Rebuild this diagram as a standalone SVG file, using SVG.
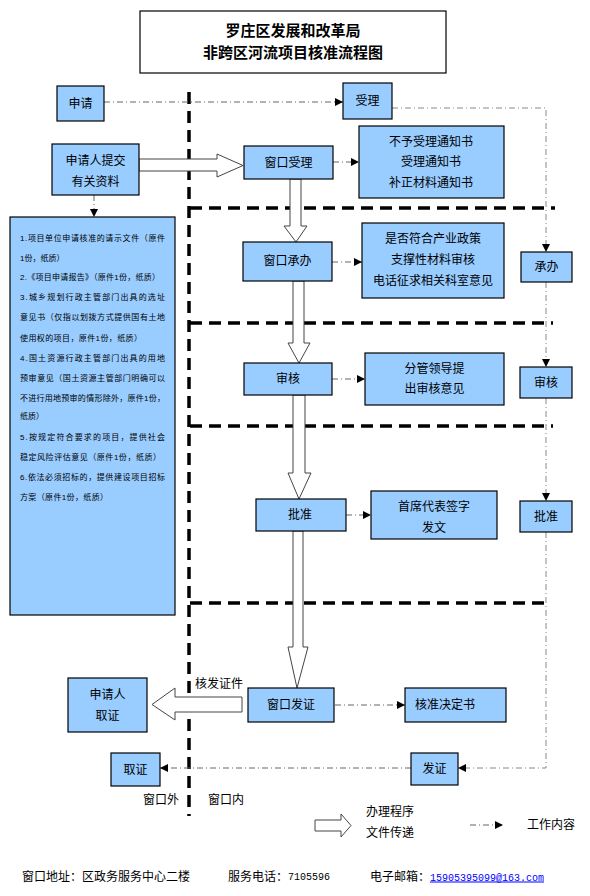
<svg xmlns="http://www.w3.org/2000/svg" width="590" height="896" viewBox="0 0 590 896">
<defs>
<style>
.n{fill:#99CCFF;stroke:#000;stroke-width:1.2}
.t{font-family:"Liberation Sans","Noto Sans CJK SC",sans-serif;font-size:12px;fill:#000;dominant-baseline:central}
.c{text-anchor:middle}
.ttl{font-family:"Noto Sans CJK SC",sans-serif;font-size:15px;font-weight:bold;text-anchor:middle;dominant-baseline:central}
.s{font-family:"Liberation Sans","Noto Sans CJK SC",sans-serif;font-size:8px;fill:#000}
.dl{fill:none;stroke:#000;stroke-width:3.5;stroke-dasharray:12 7}
.dd{fill:none;stroke:#666;stroke-width:1;stroke-dasharray:6 3 1 3}
.ddl{fill:none;stroke:#888;stroke-width:1;stroke-dasharray:6 3 1 3}
.ba{fill:#fff;stroke:#444;stroke-width:1}
</style>
<marker id="ah" viewBox="0 0 10 10" refX="10" refY="5" markerWidth="8" markerHeight="8" markerUnits="userSpaceOnUse" orient="auto">
<path d="M0,0 L10,5 L0,10 Z" fill="#000"/>
</marker>
</defs>
<rect width="590" height="896" fill="#fff"/>

<g id="title">
<rect x="140" y="11" width="306" height="62" fill="#fff" stroke="#000" stroke-width="1.2"/>
<text class="ttl" x="293" y="29">罗庄区发展和改革局</text>
<text class="ttl" x="293" y="51">非跨区河流项目核准流程图</text>
</g>

<g id="dividers">
<line class="dl" x1="189" y1="92" x2="189" y2="816"/>
<line class="dl" x1="190" y1="208" x2="555" y2="208"/>
<line class="dl" x1="190" y1="323" x2="553" y2="323"/>
<line class="dl" x1="190" y1="426" x2="553" y2="426"/>
<line class="dl" x1="190" y1="603" x2="548" y2="603"/>
</g>

<g id="connectors">
<line class="dd" x1="104" y1="102" x2="343" y2="102" marker-end="url(#ah)"/>
<polyline class="ddl" points="392,108 546,108 546,252" marker-end="url(#ah)"/>
<line class="ddl" x1="546" y1="282" x2="546" y2="367" marker-end="url(#ah)"/>
<line class="ddl" x1="546" y1="398" x2="546" y2="501" marker-end="url(#ah)"/>
<polyline class="ddl" points="546,532 546,768 458,768" marker-end="url(#ah)"/>
<line class="dd" x1="411" y1="768" x2="160" y2="768" marker-end="url(#ah)"/>
<line class="dd" x1="333" y1="162" x2="359" y2="162" marker-end="url(#ah)"/>
<line class="dd" x1="332" y1="262" x2="362" y2="262" marker-end="url(#ah)"/>
<line class="dd" x1="332" y1="379" x2="365" y2="379" marker-end="url(#ah)"/>
<line class="dd" x1="346" y1="515" x2="371" y2="515" marker-end="url(#ah)"/>
<line class="dd" x1="335" y1="705" x2="405" y2="705" marker-end="url(#ah)"/>
<line class="dd" x1="94" y1="195" x2="94" y2="217" marker-end="url(#ah)"/>
<path class="ba" d="M139,159 L217,159 L217,154 L243,165.5 L217,177 L217,171 L139,171 Z"/>
<path class="ba" d="M290,179 L290,226 L284,226 L296,242 L307,226 L301,226 L301,179 Z"/>
<path class="ba" d="M293,281 L293,343 L288,343 L299,363 L310,343 L304,343 L304,281 Z"/>
<path class="ba" d="M293,395 L293,473 L288,473 L299,499 L311,473 L305,473 L305,395 Z"/>
<path class="ba" d="M293,531 L293,647 L288,647 L297,688 L308,647 L303,647 L303,531 Z"/>
<path class="ba" d="M242,697 L175,697 L175,688 L152,704.5 L175,720 L175,712 L242,712 Z"/>
</g>

<g id="n-shenqing"><rect class="n" x="57" y="86" width="47" height="35"/><text class="t c" x="80.5" y="103.5">申请</text></g>
<g id="n-tijiao"><rect class="n" x="52" y="144" width="87" height="51"/><text class="t c" x="95.5" y="161">申请人提交</text><text class="t c" x="95.5" y="182">有关资料</text></g>
<g id="n-list"><rect class="n" x="10" y="217" width="165" height="398"/>
<text class="s" x="20" y="241" textLength="145" lengthAdjust="spacing">1.项目单位申请核准的请示文件（原件</text>
<text class="s" x="20" y="261">1份，纸质）</text>
<text class="s" x="20" y="280" textLength="140" lengthAdjust="spacing">2.《项目申请报告》（原件1份，纸质）</text>
<text class="s" x="20" y="300" textLength="145" lengthAdjust="spacing">3.城乡规划行政主管部门出具的选址</text>
<text class="s" x="20" y="320" textLength="145" lengthAdjust="spacing">意见书（仅指以划拨方式提供国有土地</text>
<text class="s" x="20" y="341" textLength="122" lengthAdjust="spacing">使用权的项目，原件1份，纸质）</text>
<text class="s" x="20" y="361" textLength="145" lengthAdjust="spacing">4.国土资源行政主管部门出具的用地</text>
<text class="s" x="20" y="381" textLength="145" lengthAdjust="spacing">预审意见（国土资源主管部门明确可以</text>
<text class="s" x="20" y="401" textLength="145" lengthAdjust="spacing">不进行用地预审的情形除外，原件1份，</text>
<text class="s" x="20" y="419">纸质）</text>
<text class="s" x="20" y="440" textLength="145" lengthAdjust="spacing">5.按规定符合要求的项目，提供社会</text>
<text class="s" x="20" y="460" textLength="141" lengthAdjust="spacing">稳定风险评估意见（原件1份，纸质）</text>
<text class="s" x="20" y="480" textLength="145" lengthAdjust="spacing">6.依法必须招标的，提供建设项目招标</text>
<text class="s" x="20" y="500" textLength="88" lengthAdjust="spacing">方案（原件1份，纸质）</text>
</g>

<g id="n-shouli"><rect class="n" x="343" y="83" width="49" height="36"/><text class="t c" x="367.5" y="101">受理</text></g>
<g id="n-ckshouli"><rect class="n" x="244" y="146" width="89" height="33"/><text class="t c" x="288.5" y="162.5">窗口受理</text></g>
<g id="n-tongzhi"><rect class="n" x="359" y="126" width="145" height="72"/><text class="t c" x="431" y="142">不予受理通知书</text><text class="t c" x="431" y="162">受理通知书</text><text class="t c" x="431" y="183">补正材料通知书</text></g>

<g id="n-ckchengban"><rect class="n" x="243" y="242" width="89" height="39"/><text class="t c" x="287.5" y="261">窗口承办</text></g>
<g id="n-zhengce"><rect class="n" x="362" y="223" width="142" height="75"/><text class="t c" x="433" y="239">是否符合产业政策</text><text class="t c" x="433" y="260">支撑性材料审核</text><text class="t c" x="433" y="281">电话征求相关科室意见</text></g>
<g id="n-chengban"><rect class="n" x="521" y="252" width="51" height="30"/><text class="t c" x="546.5" y="267">承办</text></g>

<g id="n-shenhe"><rect class="n" x="244" y="363" width="88" height="32"/><text class="t c" x="288" y="379">审核</text></g>
<g id="n-fenguan"><rect class="n" x="365" y="353" width="139" height="52"/><text class="t c" x="434.5" y="369">分管领导提</text><text class="t c" x="434.5" y="389">出审核意见</text></g>
<g id="n-shenhe2"><rect class="n" x="520" y="367" width="52" height="31"/><text class="t c" x="546" y="382.5">审核</text></g>

<g id="n-pizhun"><rect class="n" x="256" y="499" width="90" height="32"/><text class="t c" x="300" y="515">批准</text></g>
<g id="n-shouxi"><rect class="n" x="371" y="491" width="126" height="48"/><text class="t c" x="434" y="507">首席代表签字</text><text class="t c" x="434" y="528">发文</text></g>
<g id="n-pizhun2"><rect class="n" x="520" y="501" width="52" height="31"/><text class="t c" x="546" y="516.5">批准</text></g>

<g id="n-ckfazheng"><rect class="n" x="248" y="688" width="86" height="34"/><text class="t c" x="291" y="705">窗口发证</text></g>
<g id="n-jueding"><rect class="n" x="405" y="688" width="101" height="34"/><text class="t" x="415" y="705">核准决定书</text></g>
<g id="n-quzheng1"><rect class="n" x="68" y="678" width="79" height="54"/><text class="t c" x="107.5" y="695">申请人</text><text class="t c" x="107.5" y="716">取证</text></g>
<g id="n-quzheng"><rect class="n" x="111" y="753" width="49" height="33"/><text class="t c" x="135.5" y="769.5">取证</text></g>
<g id="n-fazheng"><rect class="n" x="411" y="753" width="47" height="32"/><text class="t c" x="434.5" y="769">发证</text></g>

<g id="labels">
<text class="t" x="195" y="684">核发证件</text>
<text class="t c" x="161" y="800">窗口外</text>
<text class="t c" x="226" y="800">窗口内</text>
</g>

<g id="legend">
<path class="ba" d="M315,820 L341,820 L341,814 L351,825.5 L341,837 L341,831 L315,831 Z"/>
<text class="t" x="366" y="812">办理程序</text>
<text class="t" x="366" y="833">文件传递</text>
<line class="dd" x1="470" y1="825" x2="503" y2="825" marker-end="url(#ah)"/>
<text class="t" x="527" y="825">工作内容</text>
</g>

<g id="footer">
<text class="t" x="22" y="877">窗口地址：区政务服务中心二楼</text>
<text class="t" x="228" y="877">服务电话：<tspan font-family="Liberation Mono,monospace" font-size="10">7105596</tspan></text>
<text class="t" x="370" y="877">电子邮箱：</text>
<text x="430" y="880.5" font-family="Liberation Mono,monospace" font-size="10" fill="#00f" text-decoration="underline">15905395099@163.com</text>
</g>
</svg>
